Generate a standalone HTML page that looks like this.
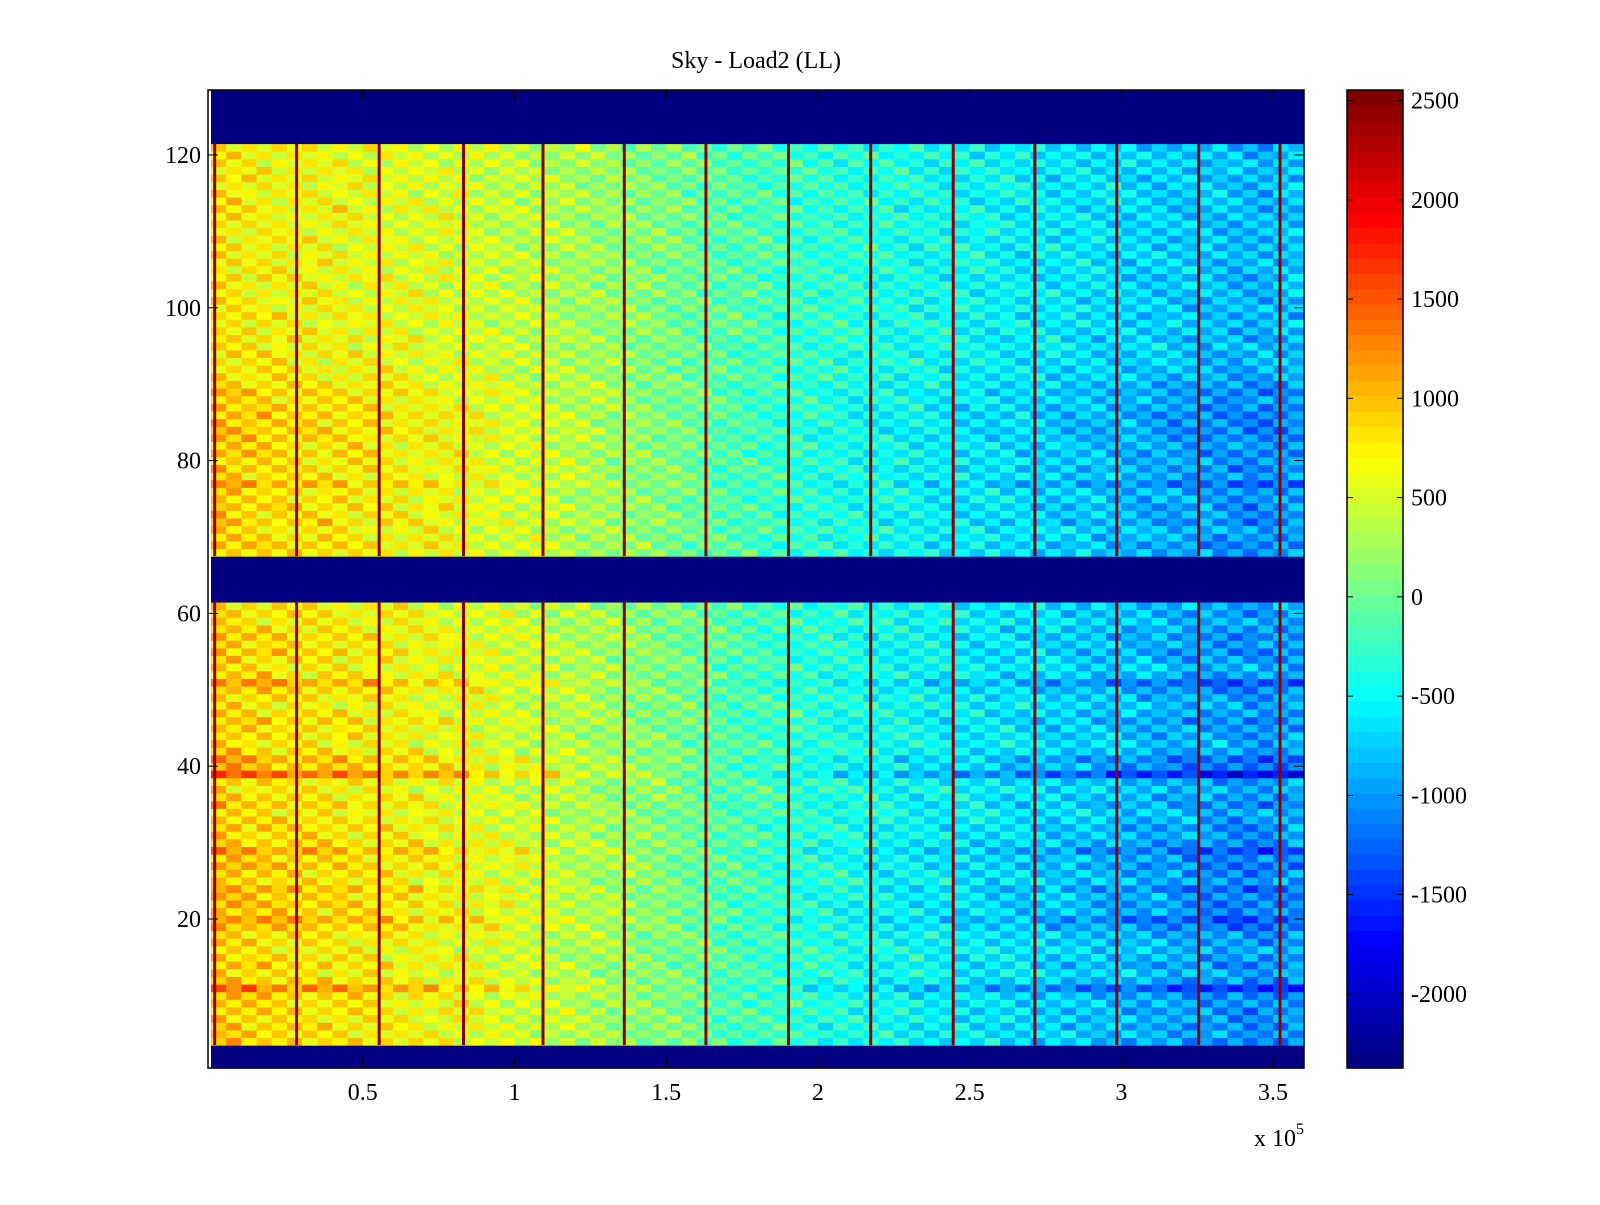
<!DOCTYPE html>
<html><head><meta charset="utf-8"><style>
html,body{margin:0;padding:0;background:#fff;}
svg text{font-family:"Liberation Serif",serif;fill:#000;}
</style></head><body>
<svg id="fig" width="1600" height="1200" xmlns="http://www.w3.org/2000/svg">
<rect width="1600" height="1200" fill="#fff"/>
<text x="756" y="68" font-size="24" text-anchor="middle">Sky - Load2 (LL)</text>
<g id="heat"></g>
<g id="stripes"></g>
<g id="axes"></g>
<g id="cbar"></g>
<text x="1254" y="1146" font-size="24">x 10<tspan dy="-12" font-size="16">5</tspan></text>
</svg>
<script>
const xTicks=[0.5,1,1.5,2,2.5,3,3.5];
const xTickLabels=["0.5","1","1.5","2","2.5","3","3.5"];
const yTicks=[20,40,60,80,100,120];
const cTicks=[2500,2000,1500,1000,500,0,-500,-1000,-1500,-2000];
const colMeans=[850,800,760,740,720,710,700,690,670,650,
640,620,600,580,560,540,520,490,460,430,
400,380,340,310,270,230,200,160,130,90,
50,0,-50,-90,-130,-160,-190,-230,-260,-290,
-320,-340,-370,-390,-410,-440,-460,-480,-500,-520,
-530,-560,-580,-600,-620,-650,-670,-690,-710,-740,
-760,-780,-800,-830,-850,-870,-900,-920,-940,-940,-900,-860];
const colJitter=[380,-200,150,-300,220,-100,280,-150,80,-250,180,-80,300,-220,100,-180,250,-120,200,-280,
150,-100,320,-200,120,-150,220,-250,100,-80,280,-180,150,-220,200,-120,250,-300,80,-150,
180,-100,300,-200,120,-250,220,-80,150,-280,100,-180,250,-120,200,-220,80,-150,300,-100,
180,-250,120,-200,220,-80,280,-150,100,-220,150,-120];
const rowGain=[null,null,null,
1.2,1.1,1.2,1.1,1.2,1.1,1.2,1.7,1.2,1.0,1.2,1.1,1.0,1.1,1.1,1.3,1.5,1.2,1.3,1.2,1.4,1.1,1.2,1.3,1.2,1.5,1.2,1.1,1.2,1.1,1.0,1.2,1.1,1.0,1.1,1.9,1.3,1.4,1.1,1.0,1.1,1.1,1.2,1.1,1.0,1.1,1.2,1.5,1.1,1.0,1.1,1.2,1.1,1.2,1.1,1.0,1.1,1.0,
null,null,null,null,null,null,
1.1,1.2,1.1,1.0,1.2,1.1,1.2,1.1,1.1,1.4,1.1,1.2,1.1,1.2,1.1,1.2,1.25,1.2,1.25,1.2,1.1,1.2,1.1,
1.0,1.0,0.95,1.0,0.9,1.0,0.95,0.9,1.0,0.9,0.95,0.9,0.9,1.0,0.9,0.95,0.9,0.9,0.95,0.9,0.9,0.9,0.95,0.9,0.9,0.9,0.95,0.9,0.9,0.9,0.95,
null,null,null,null,null,null,null];
const stripeX=[0.012,0.282,0.554,0.832,1.094,1.362,1.631,1.903,2.174,2.446,2.715,2.985,3.255,3.523];
const NaNValue=-2373;
const clim=[-2373,2553];

const L=208,R=1304,T=90,B=1068;
const xMin=-0.01,xMax=3.602,yMin=0.5,yMax=128.5;
const xs=v=>L+(v-xMin)/(xMax-xMin)*(R-L);
const ys=v=>B-(v-yMin)/(yMax-yMin)*(B-T);
const NS="http://www.w3.org/2000/svg";
function jet(t){t=Math.max(0,Math.min(1,t));const lv=Math.floor(t*63.999)/63;
 const f=x=>Math.max(0,Math.min(1,1.5-Math.abs(4*lv-x)));
 return `rgb(${Math.round(255*f(3))},${Math.round(255*f(2))},${Math.round(255*f(1))})`;}
const cmap=v=>jet((v-clim[0])/(clim[1]-clim[0]));
function mk(tag,attrs,parent){const e=document.createElementNS(NS,tag);for(const k in attrs)e.setAttribute(k,attrs[k]);parent.appendChild(e);return e;}

const heat=document.getElementById('heat');
const cw=3.6/colMeans.length;
for(let r=0;r<rowGain.length;r++){
 const y0=ys(r+1.5),y1=ys(r+0.5);
 for(let c=0;c<colMeans.length;c++){
  const g=rowGain[r];
  const v=g===null?NaNValue:colMeans[c]*g+colJitter[(c+r*7)%colJitter.length];
  const x0=xs(c*cw),x1=xs((c+1)*cw);
  const el=mk('rect',{x:x0.toFixed(2),y:y0.toFixed(2),width:(x1-x0+0.6).toFixed(2),height:(y1-y0+0.6).toFixed(2),fill:cmap(v)},heat);
  
  
 }
}
const sg=document.getElementById('stripes');
const segs=[];let st=null;
for(let r=0;r<=rowGain.length;r++){const ok=r<rowGain.length&&rowGain[r]!==null;
 if(ok&&st===null)st=r; if(!ok&&st!==null){segs.push([st,r-1]);st=null;}}
stripeX.forEach(sx=>{segs.forEach(([a,b])=>{
 const el=mk('rect',{x:(xs(sx)-1.5).toFixed(2),y:ys(b+1.5).toFixed(2),width:3,height:(ys(a+0.5)-ys(b+1.5)).toFixed(2),fill:'#8b0000'},sg);
 
 
});});

const ax=document.getElementById('axes');
mk('rect',{x:L,y:T,width:R-L,height:B-T,fill:'none',stroke:'#000','stroke-width':1.5},ax);
xTicks.forEach((t,i)=>{const x=xs(t);
 mk('line',{x1:x,x2:x,y1:B,y2:B-10,stroke:'#000'},ax);
 mk('line',{x1:x,x2:x,y1:T,y2:T+10,stroke:'#000'},ax);
 const tx=mk('text',{x:x,y:1100,'font-size':24,'text-anchor':'middle'},ax);tx.textContent=xTickLabels[i];
 
 
});
yTicks.forEach(t=>{const y=ys(t);
 mk('line',{x1:L,x2:L+10,y1:y,y2:y,stroke:'#000'},ax);
 mk('line',{x1:R,x2:R-10,y1:y,y2:y,stroke:'#000'},ax);
 const tx=mk('text',{x:201,y:y+8,'font-size':24,'text-anchor':'end'},ax);tx.textContent=String(t);
 
 
});

const cb=document.getElementById('cbar');
const CL=1347,CR=1403;
const cy=v=>B-(v-clim[0])/(clim[1]-clim[0])*(B-T);
for(let i=0;i<64;i++){const v0=clim[0]+(clim[1]-clim[0])*i/64,v1=clim[0]+(clim[1]-clim[0])*(i+1)/64;
 const el=mk('rect',{x:CL,y:cy(v1).toFixed(2),width:CR-CL,height:(cy(v0)-cy(v1)+0.6).toFixed(2),fill:cmap((v0+v1)/2)},cb);
 
 
}
mk('rect',{x:CL,y:T,width:CR-CL,height:B-T,fill:'none',stroke:'#000','stroke-width':1.5},cb);
cTicks.forEach(t=>{const y=cy(t);
 mk('line',{x1:CL,x2:CL+6,y1:y,y2:y,stroke:'#000'},cb);
 mk('line',{x1:CR,x2:CR-6,y1:y,y2:y,stroke:'#000'},cb);
 const tx=mk('text',{x:1411,y:y+8,'font-size':24},cb);tx.textContent=String(t);
 
 
});
</script>
</body></html>
